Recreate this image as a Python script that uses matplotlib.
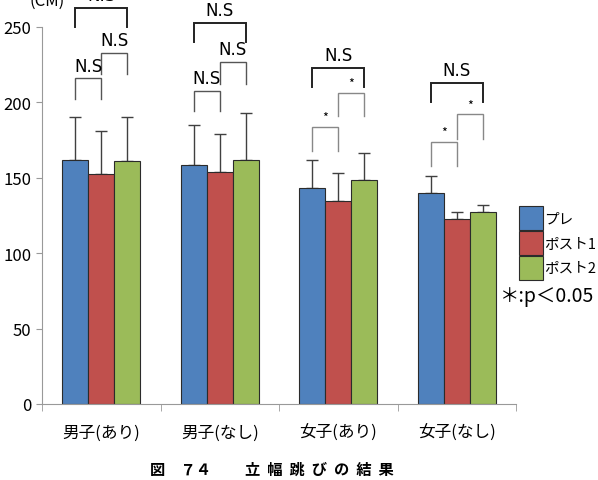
import matplotlib
matplotlib.use("Agg")
import matplotlib.pyplot as plt
import numpy as np

plt.rcParams['font.family'] = ['Noto Sans CJK JP', 'DejaVu Sans']

# data
groups = ["男子(あり)", "男子(なし)", "女子(あり)", "女子(なし)"]
series = ["プレ", "ポスト1", "ポスト2"]
pre = [162, 158.5, 143, 140]
post1 = [152.5, 154, 134.5, 123]
post2 = [161, 162, 148.5, 127.5]
pre_err = [28, 26.5, 19, 11]
post1_err = [28.5, 25, 18.5, 4]
post2_err = [29, 31, 18, 4.5]
# significance labels per group: (pre-post1, post1-post2, pre-post2)
sig = [("N.S", "N.S", "N.S"), ("N.S", "N.S", "N.S"),
       ("*", "*", "N.S"), ("*", "*", "N.S")]
# bracket heights (bar level of legs, top line) per group
br1 = [(202, 216), (194, 207.5), (168, 184), (158, 173.5)]
br2 = [(219, 233), (212, 227), (191, 206), (176, 192)]
br3 = [(250, 262.5), (240, 252.5), (210, 223), (200, 213)]

colors = ["#4F81BD", "#C0504D", "#9BBB59"]

fig = plt.figure(figsize=(5.98, 4.81), dpi=100)
ax = fig.add_axes([42/598, 76/481, 474/598, 377/481])

x = np.arange(len(groups))
w = 0.22
vals = [pre, post1, post2]
errs = [pre_err, post1_err, post2_err]
for i in range(3):
    ax.bar(x + (i-1)*w, vals[i], w, color=colors[i], edgecolor="#2b2b2b",
           linewidth=0.8, label=series[i], zorder=2)
    ax.errorbar(x + (i-1)*w, vals[i], yerr=[np.zeros(4), errs[i]], fmt="none",
                ecolor="#404040", elinewidth=1, capsize=4, capthick=1, zorder=1)

def bracket(x0, x1, ylow, yhi, text, color, lw):
    ax.plot([x0, x0, x1, x1], [ylow, yhi, yhi, ylow], color=color, lw=lw,
            clip_on=False, solid_joinstyle="miter")
    if text == "*":
        ax.text((x0+x1)/2, yhi+2, "*", ha="center", va="bottom", fontsize=9,
                clip_on=False)
    else:
        ax.text((x0+x1)/2, yhi+2.5, text, ha="center", va="bottom",
                fontsize=12, clip_on=False, family="Liberation Sans Narrow")

for g in range(4):
    xb, xr, xg = g - w, g, g + w
    c = "#555555" if g < 2 else "#888888"
    bracket(xb, xr, br1[g][0], br1[g][1], sig[g][0], c, 1.0)
    bracket(xr, xg, br2[g][0], br2[g][1], sig[g][1], c, 1.0)
    bracket(xb, xg, br3[g][0], br3[g][1], sig[g][2], "#222222", 1.4)

ax.set_ylim(0, 250)
ax.set_xlim(-0.5, 3.5)
ax.set_yticks(np.arange(0, 251, 50))
ax.set_xticks(x)
ax.set_xticklabels(groups, fontsize=12)
ax.set_xticks(np.arange(-0.5, 4, 1), minor=True)
ax.tick_params(axis="x", which="major", length=0, pad=14)
ax.tick_params(axis="x", which="minor", length=5, color="#999999")
ax.tick_params(axis="y", length=4, color="#999999", labelsize=12)
for s in ["top", "right"]:
    ax.spines[s].set_visible(False)
for s in ["left", "bottom"]:
    ax.spines[s].set_color("#999999")

ax.text(-0.46, 262, "(CM)", ha="center", va="bottom", fontsize=12, clip_on=False)

leg = ax.legend(loc="upper left", bbox_to_anchor=(0.995, 0.54), frameon=False,
                fontsize=10.5, handlelength=1.6, handleheight=2.1,
                handletextpad=0.1, labelspacing=0.1, borderaxespad=0)
fig.text(500/598, 1-297/481, "＊:p＜0.05", fontsize=14, va="center", ha="left")

fig.text(272/598, 1-470/481, "図　７４　　 立  幅  跳  び  の  結  果", fontsize=11,
         ha="center", va="center", fontweight="bold")

fig.savefig("out.png", dpi=100)
